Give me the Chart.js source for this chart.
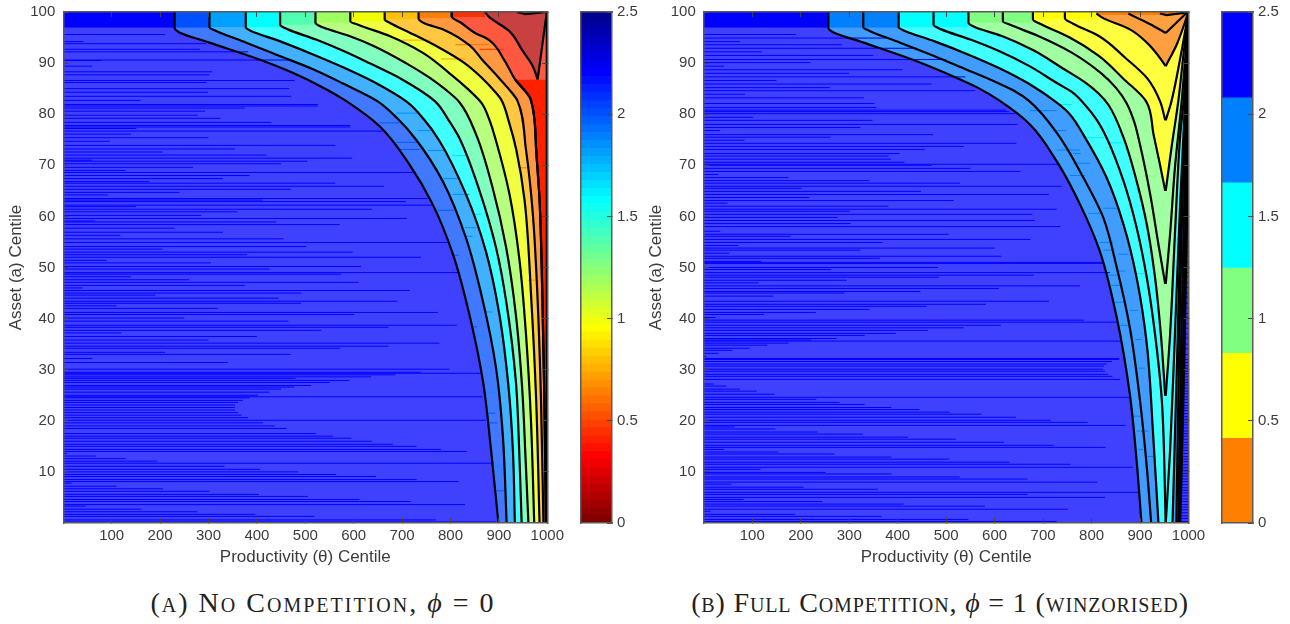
<!DOCTYPE html>
<html>
<head>
<meta charset="utf-8">
<title>No Competition vs Full Competition</title>
<script src="https://cdn.jsdelivr.net/npm/chart.js@4"></script>
<style>
  body { margin: 0; background: #fff; width: 1290px; height: 624px; overflow: hidden; position: relative; }
  canvas { position: absolute; top: 0; }
  .caption { position: absolute; top: 587px; text-align: center; font-family: "Liberation Serif", serif; font-size: 28px; color: #222; white-space: nowrap; font-variant: small-caps; }
  .caption i { font-variant: normal; }
</style>
</head>
<body>
<canvas id="panelA" width="565" height="568" style="left:0"></canvas>
<canvas id="barA" width="70" height="568" style="left:575px"></canvas>
<canvas id="panelB" width="565" height="568" style="left:640px"></canvas>
<canvas id="barB" width="74" height="568" style="left:1216px"></canvas>
<div class="caption" style="left:123px;width:400px;letter-spacing:2px">(a) No Competition, <i>ϕ</i> = 0</div>
<div class="caption" style="left:640px;width:600px;letter-spacing:0.85px">(b) Full Competition, <i>ϕ</i> = 1 (winzorised)</div>

<script>
// tick labels
const xTicks = [100, 200, 300, 400, 500, 600, 700, 800, 900, 1000];
const yTicks = [10, 20, 30, 40, 50, 60, 70, 80, 90, 100];
const barTicks = [0, 0.5, 1, 1.5, 2, 2.5];

// Panel A contours, each from top (y=100) to bottom
const contourXA = [
  [0, 0],
  [230, 230, 240, 302, 405, 474, 543, 584, 653, 715, 763, 805, 839, 867, 884, 899],
  [302, 302, 316, 378, 447, 516, 578, 648, 690, 729, 784, 832, 867, 894, 908, 916],
  [377, 377, 388, 447, 516, 578, 640, 710, 745, 777, 832, 873, 901, 920, 929, 933],
  [448, 448, 464, 522, 578, 632, 700, 767, 795, 818, 860, 894, 915, 935, 942, 947],
  [521, 521, 536, 591, 640, 708, 756, 790, 818, 853, 887, 915, 935, 948, 955, 961],
  [593, 593, 609, 674, 743, 798, 835, 864, 880, 894, 922, 942, 956, 966, 973],
  [664, 664, 676, 715, 777, 829, 866, 891, 905, 921, 936, 953, 967, 977, 984],
  [734, 734, 746, 787, 839, 866, 901, 926, 938, 956, 970, 980, 987, 992],
  [803, 803, 820, 849, 880, 911, 934, 966, 977, 984, 990, 994, 997],
  [934, 966, 977, 984, 990, 994, 997],
  [871, 880, 921, 949, 970, 980],
  [999, 980]
];
const contourYA = [
  [100, 0],
  [100, 96.9, 96, 94, 90.7, 88.1, 84.9, 82.6, 77.7, 70.2, 62.4, 52.6, 40.8, 27.8, 14.1, 0],
  [100, 97, 96.3, 94, 91.4, 88.8, 86, 82.6, 79.2, 75, 66.9, 55.8, 43.4, 30.4, 17.3, 0],
  [100, 97, 96.3, 94.3, 91.7, 89.2, 86.4, 82.4, 79, 74.8, 64.3, 53.2, 40.8, 26.5, 14.1, 0],
  [100, 97.5, 96.6, 94.6, 92.4, 90, 86.8, 82.6, 79, 75.4, 65, 53.9, 43.4, 27.8, 14.1, 0],
  [100, 97.9, 97, 95.3, 93.4, 90, 87.2, 84.8, 82.4, 76, 65.6, 53.9, 40.8, 26.5, 12.8, 0],
  [100, 98.2, 97.5, 95.3, 92, 88, 85, 82.2, 79, 74.8, 64.3, 51.9, 36.9, 20.6, 0],
  [100, 98.6, 97.8, 96, 93, 90, 87, 84.5, 82.8, 78.4, 73, 63.2, 43.6, 24, 0],
  [100, 98.8, 97.8, 96.5, 93.5, 90.6, 87, 84.3, 82.7, 73, 60.6, 43.6, 24, 0],
  [100, 99, 98, 96, 94.5, 90.6, 86.7, 82.8, 73, 63.2, 43.6, 24, 0],
  [86.8, 82.8, 73, 63.2, 43.6, 24, 0],
  [100, 99, 96.3, 92.4, 89.4, 86.8],
  [100, 86.8]
];
// index into bandColorsA for the area right of each contour
const contourBandA = [0, 1, 2, 3, 4, 5, 6, 7, 8, 9, 10, 11, 9];
// Panel A lines that carry no fill
const extraXA = [[937, 955, 999], [999, 999]];
const extraYA = [[100, 99.6, 100], [100, 0]];

// Panel A top strip
const stripXA = [0, 230, 302, 377, 448, 521, 593, 664, 734, 803, 871, 937];
const stripYA = [96.9, 96.9, 97, 97, 97.5, 97.9, 98.2, 98.6, 98.8, 99, 99.7, 99.7];

// Panel A thin lines in the blue area
const streakYA = [
  95.6, 94.2, 93.8, 92.7, 92.2, 90.6, 90.5, 89.4, 88.3, 87.7, 86.6, 86.2, 85, 84.3, 83.5, 82.7, 81.9, 81.2, 80.6, 79.8, 79.2, 78.4, 77.8, 77.2,
  81.6, 77.5, 76.7, 76.1, 75.4, 74.7, 73.9, 73.2, 72.6, 72, 71.4, 71, 70.8, 70.3, 69.6, 69, 68.6, 68, 67.4, 66.8, 66.5, 65.9, 65.3, 64.7, 64.2,
  63.5, 63.2, 62.9, 62.2, 61.9, 61.4, 60.9, 60.2, 59.6, 59.1, 58.9, 58.4, 57.7, 56.9, 56.3, 55.6, 54.9, 54.1, 53.6, 53, 52.5, 52, 51.4, 50.9, 50.2,
  49.7, 49, 48.7, 48.2, 47.6, 47.1, 46.5, 46, 45.5, 45, 44.6, 44, 43.4, 43, 42.5, 42, 41.2, 40.8, 40.1, 39.5, 38.7, 38.3, 37.7, 37.2, 36.5, 35.8,
  35.2, 34.6, 34.2, 33.4, 33, 32.2, 31.4, 30.1, 29.5, 29.3, 29, 28.6, 28.3, 27.9, 27.5, 26.9, 26.6, 26.2, 25.6, 25, 24.7, 24.5, 24, 23.6, 23.1, 22.6,
  22.1, 21.6, 21.1, 20.6, 20.1, 19.6, 19, 18.5, 17.5, 17, 16.6, 16, 15.4, 15, 14.4, 14, 13.6, 13.1, 12.6, 12.1, 11.7, 11.1, 10.5, 10, 9.5, 9.1, 8.5, 8.1,
  7.8, 7.2, 6.7, 6.2, 5.6, 5.2, 4.6, 4.2, 3.6, 3.3, 2.7, 2.2, 1.7, 1.3, 0.6, 0.2
];
const streakEndA = [
  210, 42, 295, 282, 382, 468, 79, 60, 308, 302, 478, 296, 467, 299, 471, 160, 526, 375, 293, 278, 325, 430, 593, 151,
  526, 593, 660, 140, 300, 96, 562, 355, 205, 420, 597, 60, 504, 450, 268, 128, 725, 385, 330, 178, 562, 663, 470, 240, 92,
  753, 412, 708, 763, 150, 638, 360, 285, 710, 66, 440, 571, 230, 330, 118, 455, 794, 502, 205, 598, 380, 739, 90, 305, 615,
  425, 815, 574, 140, 260, 610, 375, 40, 716, 491, 190, 445, 690, 491, 110, 320, 774, 601, 250, 465, 813, 672, 533, 120, 400, 300,
  777, 672, 572, 210, 470, 60, 340, 798, 739, 863, 686, 636, 480, 591, 550, 512, 478, 450, 426, 402, 866, 385, 371, 361, 355, 355,
  355, 361, 368, 382, 873, 413, 437, 461, 522, 557, 595, 638, 681, 730, 780, 834, 7, 67, 129, 194, 884, 333, 407, 485, 564, 646, 730, 817,
  17, 110, 206, 302, 404, 505, 612, 718, 830, 46, 161, 277, 397, 519, 770, 894
];

// Panel A short lines inside the coloured bands
const bandStreakYA = [80.2, 78.3, 76.8, 76.3, 74.5, 73.1, 72.9, 71.9, 69.5, 67.4, 64.3, 61.2, 60.4, 57.8, 56.1, 52.4, 47.5, 41.3, 38.4, 36.6, 32.8, 25.6, 22.9, 21.5, 19.6, 13.1, 11.1, 6.3, 94.5, 93.6, 92.7, 90.8];
const bandStreakFromA = [688, 653, 732, 825, 688, 694, 753, 804, 942, 784, 804, 773, 846, 829, 829, 808, 960, 870, 846, 851, 856, 872, 890, 878, 880, 908, 890, 895, 700, 810, 860, 780];
const bandStreakToA = [732, 694, 760, 853, 732, 736, 787, 835, 963, 818, 839, 808, 863, 853, 846, 817, 975, 887, 855, 873, 877, 893, 906, 893, 897, 922, 904, 910, 760, 880, 910, 830];
const bandStreakBandA = [2, 1, 2, 5, 1, 1, 2, 3, 8, 2, 2, 1, 3, 2, 2, 1, 7, 2, 1, 2, 2, 2, 2, 1, 1, 3, 2, 1, 7, 8, 9, 7];

// Panel B contours: left limbs, then the limbs coming back up on the right
const contourXB = [
  [0, 0],
  [257, 257, 268, 330, 430, 500, 565, 611, 673, 728, 776, 817, 852, 879, 893, 903],
  [329, 329, 342, 405, 475, 540, 600, 640, 671, 728, 783, 824, 852, 879, 900, 914, 923],
  [402, 402, 415, 475, 545, 610, 670, 729, 755, 783, 831, 866, 893, 914, 927, 938],
  [474, 474, 490, 550, 610, 670, 730, 760, 783, 810, 831, 866, 893, 914, 931, 945, 953],
  [546, 546, 560, 615, 680, 740, 790, 815, 835, 866, 893, 914, 931, 943, 952],
  [617, 617, 632, 690, 760, 820, 850, 872, 888, 900, 921, 938, 952],
  [679, 679, 696, 755, 815, 865, 912, 928, 941, 952],
  [745, 745, 762, 815, 870, 915, 941, 952],
  [810, 824, 879, 914, 938, 953],
  [876, 893, 921, 953],
  [998, 953],
  [1000, 976, 953],
  [1000, 985, 965, 953],
  [1000, 990, 979, 965, 953],
  [1000, 994, 986, 972, 962, 953],
  [1000, 990, 983, 972, 962, 953],
  [1000, 993, 983, 972, 962, 953],
  [1000, 996, 988, 976, 967],
  [1000, 997, 990, 980, 975],
  [1000, 998, 993, 984, 979],
  [1000, 998.5, 996, 988, 981],
  [1000, 999, 998, 991, 983]
];
const contourYB = [
  [100, 0],
  [100, 96.9, 96, 94, 90.7, 88, 85.2, 82.6, 78, 70.8, 62.4, 53.2, 40.2, 25.2, 12.2, 0],
  [100, 97, 96.3, 94, 91.4, 88.8, 86.4, 84.6, 82.6, 76.4, 67.6, 59.8, 50, 38.2, 23.9, 10.9, 0],
  [100, 97, 96.3, 94.3, 91.7, 89, 86, 82.2, 80, 76, 67.6, 58.4, 48, 35, 17.4, 0],
  [100, 97.5, 96.6, 94.6, 92.3, 89.5, 86, 84.3, 82.2, 79, 75.4, 66.9, 57.8, 48, 36.9, 23.9, 0],
  [100, 97.9, 97, 95.3, 92.5, 89, 86, 84, 81.8, 75.4, 66.9, 58.4, 48, 36.9, 24.9],
  [100, 98.2, 97.5, 95.3, 92, 88, 85.2, 82.2, 78.5, 74, 64.3, 54.5, 46.8],
  [100, 98.6, 97.6, 95, 91.4, 87, 82.6, 76, 70.2, 65],
  [100, 98.8, 97.7, 95.3, 91, 87, 82.6, 78.8],
  [99.7, 98.8, 96.6, 94, 91.4, 89.4],
  [99.7, 98.9, 97.6, 95.9],
  [100, 95.9],
  [100, 93.7, 89.4],
  [100, 92, 82.6, 78.8],
  [100, 92, 82.6, 73.5, 65],
  [100, 92, 82.6, 69.5, 56.5, 46.8],
  [100, 82.6, 76, 56.5, 36.9, 24.9],
  [100, 82.6, 63, 36.9, 14.1, 0],
  [100, 82.6, 69.5, 30.4, 0],
  [100, 82.6, 70, 30, 0],
  [100, 82.6, 70, 30, 0],
  [100, 82.6, 70, 30, 0],
  [100, 82.6, 65, 30, 0]
];
const contourBandB = [0, 1, 1, 2, 2, 3, 3, 4, 4, 5, 5, 5, 4, 4, 3, 3, 2, 2, 1, 1, 0, 0, 0];
const extraXB = [[941, 955, 996]];
const extraYB = [[99.7, 99.4, 99.9]];

const stripXB = [0, 257, 402, 546, 679, 810];
const stripYB = [96.9, 96.9, 97, 97.9, 98.6, 99.4];

const streakYB = [
  95.6, 94.9, 94.2, 93.6, 92.9, 92.2, 91.5, 90.7, 90.1, 89.4, 88.7, 88, 87.3, 86.6, 85.9, 85.2, 84.6, 83.9, 83.2,
  82.1, 81.3, 80.8, 80.5, 80.1, 79.4, 78.8, 78, 77.4, 76.8, 76, 75.5, 74.9, 74.3, 73.7, 73.1, 72.3, 71.8, 71.2, 70.6, 70.2, 70, 69.4, 68.8, 68.2, 67.6, 67,
  66.5, 65.9, 65.5, 64.9, 64.3, 63.7, 63.1, 62.6, 62, 61.4, 61, 60.4, 59.8, 59.2, 58.6, 58, 57.1, 56.5, 56.1, 55.5, 54.9, 54.3, 53.8, 53.4, 52.8, 52.2, 51.8, 51.2, 51, 50.8,
  50, 49.6, 49, 48.5, 48.1, 47.5, 47, 46.4, 45.9, 45.3, 45, 44.4, 43.4, 42.8, 42.4, 41.8, 41.2, 40.8, 40.2, 39.7, 39.3, 38.7, 38.2, 37.7, 37.1, 36.7, 36.1, 35.8, 35.6, 35.2, 34.8, 34.2, 33.8, 33.2, 32.6,
  32.2, 32, 31.6, 31.1, 30.7, 30.1, 29.7, 29.1, 28.7, 28.1, 27.2, 26.8, 26.2, 25.8, 25.2, 24.6, 24.2, 23.6, 23.2, 22.6, 22.2, 21.7, 21.3, 20.7, 20.1, 19.7, 19.1,
  18.8, 18.4, 17.8, 17.4, 16.8, 16.4, 15.8, 15.2, 14.8, 14.4, 13.9, 13.5, 12.9, 12.5, 11.9, 11.5, 10.9, 10.5, 9.9, 9.6, 9, 8.6, 8, 7.6, 7, 6.6, 6, 5.6, 5, 4.6, 4.2, 3.7, 3.3, 2.7, 2.3, 1.7, 1.3, 0.7, 0.3
];
const streakEndB = [
  190, 380, 75, 285, 440, 120, 350, 500, 220, 42, 410, 300, 540, 150, 470, 260, 560, 85, 330,
  352, 356, 624, 630, 642, 102, 348, 647, 323, 34, 473, 261, 84, 645, 536, 456, 404, 381, 386, 414, 735, 470, 550, 654, 30, 175, 342,
  529, 738, 202, 448, 712, 218, 516, 49, 381, 728, 301, 678, 276, 683, 303, 736, 34, 505, 179, 674, 369, 71, 600, 323, 53, 614, 363, 119, 824, 824,
  483, 263, 838, 681, 485, 295, 113, 776, 609, 447, 290, 144, 712, 582, 460, 342, 231, 125, 24, 784, 852, 613, 536, 463, 396, 332, 274, 222, 862, 175, 131, 94, 59, 30, 5,
  857, 857, 842, 831, 826, 824, 828, 834, 843, 859, 20, 47, 75, 109, 146, 879, 232, 280, 332, 387, 445, 507, 573, 644, 716, 792, 870,
  63, 148, 235, 328, 421, 520, 619, 722, 829, 42, 154, 270, 387, 507, 631, 757, 885, 117, 251, 387, 528, 668, 812, 57, 206, 359, 900, 668, 828, 82, 245, 412, 580, 751, 14, 189, 367, 546, 728
];

const bandStreakYB = [81.9, 80.7, 79.2, 76.8, 75.4, 74.4, 73, 72.3, 70.4, 68, 67.9, 61.6, 60.6, 54.9, 53.4, 52.6, 49.3, 48.8, 48.5, 46.5, 43.2, 41.6, 38.7, 35.9, 30.3, 20.9, 18, 14.4, 13];
const bandStreakFromB = [735, 673, 872, 721, 790, 838, 728, 762, 762, 755, 907, 824, 793, 817, 824, 855, 855, 893, 835, 841, 848, 879, 859, 890, 896, 886, 893, 896, 914];
const bandStreakToB = [759, 728, 893, 748, 825, 862, 776, 778, 797, 786, 934, 855, 824, 845, 845, 876, 869, 914, 852, 862, 869, 896, 879, 904, 910, 903, 917, 907, 927];
const bandStreakBandB = [2, 1, 3, 1, 2, 2, 1, 1, 1, 1, 3, 1, 1, 1, 1, 1, 1, 2, 1, 1, 1, 1, 1, 1, 1, 1, 1, 1, 1];

// stripes at the far right of panel B
const rightStripeYB = [
  0.3, 0.9, 1.4, 2, 2.6, 3.1, 3.6, 4.2, 4.7, 5.3, 5.9, 6.4, 6.9, 7.5, 8.1, 8.6, 9.2, 9.7, 10.3, 10.8, 11.4, 12, 12.5, 13, 13.6, 14.2, 14.7, 15.3, 15.8, 16.4,
  17, 17.5, 18, 18.6, 19.2, 19.7, 20.3, 20.8, 21.4, 22, 22.5, 23, 23.6, 24.2, 24.7, 25.3, 25.8, 26.4, 27, 27.5, 28, 28.6, 29.2, 29.7, 30.3, 30.8, 31.4, 32,
  33, 34.1, 35, 36.2, 37, 38.1, 39, 40.2, 41, 42.1, 43, 44.2, 45, 46.1, 47, 48.2, 49, 50.1, 51, 52.2, 53, 54.1, 55
];

// colour bar edges, top colour first
const barEdgesA = [
  2.5, 2.461, 2.422, 2.383, 2.344, 2.305, 2.266, 2.227, 2.188, 2.148, 2.109, 2.07, 2.031, 1.992, 1.953, 1.914,
  1.875, 1.836, 1.797, 1.758, 1.719, 1.68, 1.641, 1.602, 1.563, 1.523, 1.484, 1.445, 1.406, 1.367, 1.328, 1.289,
  1.25, 1.211, 1.172, 1.133, 1.094, 1.055, 1.016, 0.977, 0.938, 0.898, 0.859, 0.82, 0.781, 0.742, 0.703, 0.664,
  0.625, 0.586, 0.547, 0.508, 0.469, 0.43, 0.391, 0.352, 0.313, 0.273, 0.234, 0.195, 0.156, 0.117, 0.078, 0.039, 0
];
const barEdgesB = [2.5, 2.083, 1.667, 1.25, 0.833, 0.417, 0];

// styles
const barColorsA = [
  '#000090', '#0000a0', '#0000b0', '#0000c0', '#0000d0', '#0000e0', '#0000f0', '#0000ff',
  '#0010ff', '#0020ff', '#0030ff', '#0040ff', '#0050ff', '#0060ff', '#0070ff', '#0080ff',
  '#0090ff', '#00a0ff', '#00b0ff', '#00c0ff', '#00d0ff', '#00e0ff', '#00f0ff', '#00ffff',
  '#10ffef', '#20ffdf', '#30ffcf', '#40ffbf', '#50ffaf', '#60ff9f', '#70ff8f', '#80ff80',
  '#8fff70', '#9fff60', '#afff50', '#bfff40', '#cfff30', '#dfff20', '#efff10', '#ffff00',
  '#fff000', '#ffe000', '#ffd000', '#ffc000', '#ffb000', '#ffa000', '#ff9000', '#ff8000',
  '#ff7000', '#ff6000', '#ff5000', '#ff4000', '#ff3000', '#ff2000', '#ff1000', '#ff0000',
  '#f00000', '#e00000', '#d00000', '#c00000', '#b00000', '#a00000', '#900000', '#800000'
];
const barColorsB = ['#0000ff', '#0080ff', '#00ffff', '#80ff80', '#ffff00', '#ff8000'];
const bandColorsA = ['#4040ff', '#4078ff', '#40b0ff', '#40ffff', '#80ffc0', '#b8ff80', '#f0ff40', '#ffc840', '#ff9840', '#ff5840', '#ff2000', '#c84040'];
const stripColorsA = ['#0000ff', '#0050ff', '#00a0ff', '#00ffff', '#50ffb0', '#a0ff60', '#f0ff00', '#ffc000', '#ff8000', '#ff3000', '#c83030', '#c83030'];
const bandColorsB = ['#4040ff', '#409cff', '#40ffff', '#a0ffa0', '#ffff40', '#ffa040'];
const stripColorsB = ['#0000ff', '#0080ff', '#00ffff', '#80ff80', '#ffff00', '#ff8000'];
const streakColorsA = ['#0000ff', '#0058ff', '#0090ff', '#00e0ff', '#50ffa0', '#a0ff60', '#f0ff00', '#ffa000', '#ff7000', '#ff3000'];
const streakColorsB = ['#0000ff', '#0080ff', '#00e8ff', '#80ff80', '#ffff00', '#ff8000'];

const textColor = '#3c3c3c';
const axisColor = '#5a5a5a';
const tickFont = { family: '"Liberation Sans", Arial, sans-serif', size: 15 };
const titleFont = { family: '"Liberation Sans", Arial, sans-serif', size: 17 };

function points(xs, ys) {
    return xs.map((x, i) => ({ x: x, y: ys[i] }));
}

function areaDataset(data, color, target) {
    return { data: data, fill: { value: target }, backgroundColor: color, borderWidth: 0, pointRadius: 0 };
}

function lineDataset(data, color, width) {
    return { data: data, fill: false, borderColor: color, borderWidth: width, pointRadius: 0 };
}

// datasets are listed in paint order, then reversed because Chart.js paints index 0 last
function panelDatasets(p) {
    const sets = [];
    p.contourX.forEach((xs, i) => {
        const set = areaDataset(points(xs, p.contourY[i]), p.bands[p.contourBand[i]], 1000);
        set.cubicInterpolationMode = 'monotone';
        sets.push(set);
    });
    p.stripX.forEach((x, i) => {
        const end = i + 1 < p.stripX.length ? p.stripX[i + 1] : 1000;
        sets.push(areaDataset(points([x, x], [100, p.stripY[i]]), p.strips[i], end));
    });
    p.streakY.forEach((y, i) => {
        sets.push(lineDataset(points([0, p.streakEnd[i]], [y, y]), p.streakColors[0], 1));
    });
    p.bandStreakY.forEach((y, i) => {
        const pts = points([p.bandStreakFrom[i], p.bandStreakTo[i]], [y, y]);
        sets.push(lineDataset(pts, p.streakColors[p.bandStreakBand[i]], 1));
    });
    if (p.rightStripeY) {
        p.rightStripeY.forEach(y => {
            sets.push(lineDataset(points([985, 1000], [y, y]), '#0000ff', 1));
        });
    }
    p.contourX.forEach((xs, i) => {
        if (i > 0) {
            const set = lineDataset(points(xs, p.contourY[i]), '#000', 2.2);
            set.cubicInterpolationMode = 'monotone';
            sets.push(set);
        }
    });
    p.extraX.forEach((xs, i) => {
        sets.push(lineDataset(points(xs, p.extraY[i]), '#000', 2.2));
    });
    return sets.reverse();
}

function useTicks(list) {
    return scale => { scale.ticks = list.map(v => ({ value: v })); };
}

// fixes an axis box so the plot lands where it does in the original
function fixBox(width, height) {
    return scale => {
        if (width !== null) scale.width = width;
        if (height !== null) scale.height = height;
        scale.paddingLeft = scale.paddingRight = scale.paddingTop = scale.paddingBottom = 0;
    };
}

// ticks point into the plot, as in the original
function tickGrid() {
    return { drawOnChartArea: false, drawTicks: true, tickLength: -5, tickWidth: 1, tickColor: '#444', z: 2 };
}

function createPanel(id, p, axisWidth, rightPad) {
    new Chart(document.getElementById(id), {
        type: 'line',
        data: { datasets: panelDatasets(p) },
        options: {
            indexAxis: 'y',
            responsive: false,
            animation: false,
            events: [],
            layout: { autoPadding: false, padding: { top: 12, right: rightPad } },
            plugins: { legend: { display: false }, tooltip: { enabled: false } },
            scales: {
                x: {
                    type: 'linear', position: 'bottom', min: 0, max: 1000,
                    afterBuildTicks: useTicks(xTicks),
                    afterFit: fixBox(null, 45),
                    grid: tickGrid(),
                    border: { color: axisColor, width: 1.5, z: 2 },
                    ticks: { color: textColor, font: tickFont, padding: 9, maxRotation: 0, autoSkip: false, callback: v => String(v) },
                    title: { display: true, text: 'Productivity (θ) Centile', color: textColor, font: titleFont, padding: 0 }
                },
                y: {
                    type: 'linear', position: 'left', min: 0, max: 100,
                    afterBuildTicks: useTicks(yTicks),
                    afterFit: fixBox(axisWidth, null),
                    grid: tickGrid(),
                    border: { color: axisColor, width: 1.5, z: 2 },
                    ticks: { color: textColor, font: tickFont, padding: 13, autoSkip: false, callback: v => String(v) },
                    title: { display: true, text: 'Asset (a) Centile', color: textColor, font: titleFont, padding: { top: 6, bottom: 0 } }
                },
                xTop: {
                    type: 'linear', position: 'top', min: 0, max: 1000,
                    afterBuildTicks: useTicks(xTicks),
                    afterFit: fixBox(null, 0),
                    grid: tickGrid(),
                    border: { color: axisColor, width: 1.5, z: 2 },
                    ticks: { display: false }
                },
                yRight: {
                    type: 'linear', position: 'right', min: 0, max: 100,
                    afterBuildTicks: useTicks(yTicks),
                    afterFit: fixBox(0, null),
                    grid: tickGrid(),
                    border: { color: axisColor, width: 1.5, z: 2 },
                    ticks: { display: false }
                }
            }
        }
    });
}

function createColorBar(id, edges, colors, axisWidth) {
    const sets = colors.map((c, i) => ({
        data: [[edges[i + 1], edges[i]]],
        backgroundColor: c,
        borderWidth: 0,
        grouped: false,
        barPercentage: 1,
        categoryPercentage: 1
    }));
    new Chart(document.getElementById(id), {
        type: 'bar',
        data: { labels: [''], datasets: sets },
        options: {
            responsive: false,
            animation: false,
            events: [],
            layout: { autoPadding: false, padding: { top: 12, left: 5.7, bottom: 45 } },
            plugins: { legend: { display: false }, tooltip: { enabled: false } },
            scales: {
                x: { display: false },
                y: {
                    type: 'linear', position: 'right', min: 0, max: 2.5,
                    afterBuildTicks: useTicks(barTicks),
                    afterFit: fixBox(axisWidth, null),
                    grid: tickGrid(),
                    border: { color: axisColor, width: 1.5, z: 2 },
                    ticks: { color: textColor, font: tickFont, padding: 10, autoSkip: false, callback: v => String(v) }
                },
                yLeft: {
                    type: 'linear', position: 'left', min: 0, max: 2.5,
                    afterFit: fixBox(0, null),
                    grid: { display: false },
                    border: { color: axisColor, width: 1.5, z: 2 },
                    ticks: { display: false }
                },
                xTop: {
                    type: 'linear', position: 'top',
                    afterFit: fixBox(null, 0),
                    grid: { display: false },
                    border: { color: axisColor, width: 1.5, z: 2 },
                    ticks: { display: false }
                },
                xBottom: {
                    type: 'linear', position: 'bottom',
                    afterFit: fixBox(null, 0),
                    grid: { display: false },
                    border: { color: axisColor, width: 1.5, z: 2 },
                    ticks: { display: false }
                }
            }
        }
    });
}

createPanel('panelA', {
    contourX: contourXA, contourY: contourYA, contourBand: contourBandA, bands: bandColorsA,
    extraX: extraXA, extraY: extraYA,
    stripX: stripXA, stripY: stripYA, strips: stripColorsA,
    streakY: streakYA, streakEnd: streakEndA, streakColors: streakColorsA,
    bandStreakY: bandStreakYA, bandStreakFrom: bandStreakFromA, bandStreakTo: bandStreakToA, bandStreakBand: bandStreakBandA
}, 63.3, 17.7);

createPanel('panelB', {
    contourX: contourXB, contourY: contourYB, contourBand: contourBandB, bands: bandColorsB,
    extraX: extraXB, extraY: extraYB,
    stripX: stripXB, stripY: stripYB, strips: stripColorsB,
    streakY: streakYB, streakEnd: streakEndB, streakColors: streakColorsB,
    bandStreakY: bandStreakYB, bandStreakFrom: bandStreakFromB, bandStreakTo: bandStreakToB, bandStreakBand: bandStreakBandB,
    rightStripeY: rightStripeYB
}, 63.8, 16.5);

createColorBar('barA', barEdgesA, barColorsA, 33);
createColorBar('barB', barEdgesB, barColorsB, 37);
</script>
</body>
</html>
